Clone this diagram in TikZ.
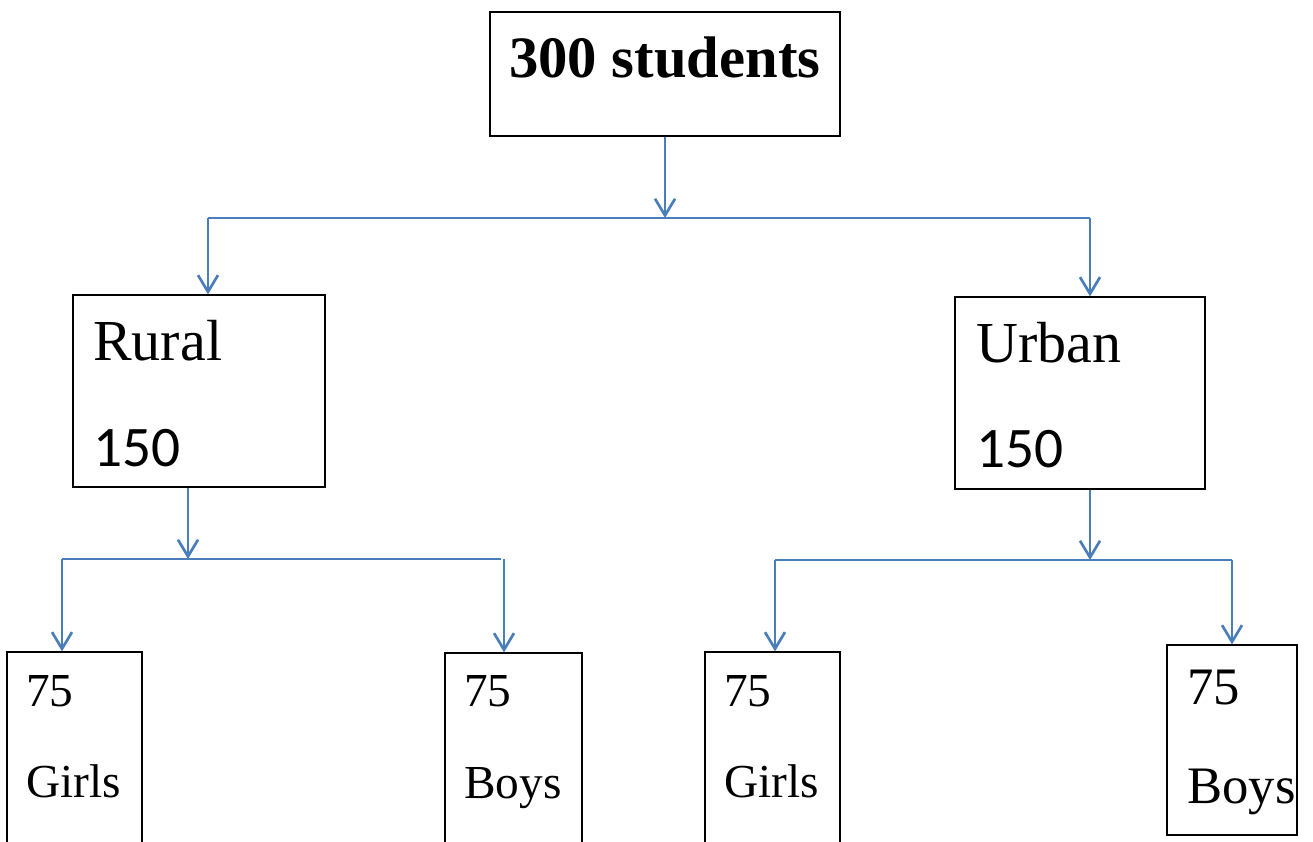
\documentclass[tikz,border=0pt]{standalone}
\usepackage{fontspec}
\setmainfont{Liberation Serif}
\newfontfamily\calib{Carlito}
\usetikzlibrary{arrows.meta}
\definecolor{conn}{HTML}{4A7EBB}
\tikzset{
  boxnode/.style={draw=black, line width=0.9pt, rectangle, inner sep=0pt},
  txt/.style={anchor=base west, inner sep=0pt, text=black},
  arr/.style={draw=conn, line width=2pt, -{Straight Barb[length=12.5pt, width=15pt, line width=2pt]}},
  link/.style={draw=conn, line width=2pt}
}
\begin{document}
\begin{tikzpicture}[x=0.75pt, y=-0.75pt]
\useasboundingbox (0,0) rectangle (1313,842);
\clip (0,0) rectangle (1313,842);
% boxes
\node[boxnode, minimum width=262.5pt, minimum height=93pt] (top) at (665,74) {};
\node[boxnode, minimum width=189pt, minimum height=144pt] (rural) at (199,391) {};
\node[boxnode, minimum width=187.5pt, minimum height=144pt] (urban) at (1080,393) {};
\node[boxnode, minimum width=101.25pt, minimum height=157.5pt] (rg) at (74.5,757) {};
\node[boxnode, minimum width=102.75pt, minimum height=157.5pt] (rb) at (513.5,758) {};
\node[boxnode, minimum width=101.25pt, minimum height=157.5pt] (ug) at (772.5,757) {};
\node[boxnode, minimum width=97.5pt, minimum height=142.5pt] (ub) at (1232,740) {};
% texts
\node[txt, font=\fontsize{44pt}{48pt}\selectfont\bfseries] (ttop) at (509,78) {300 students};
\node[txt, font=\fontsize{43.5pt}{48pt}\selectfont] (tr1) at (93,360) {Rural};
\node[txt, font=\fontsize{43pt}{48pt}\selectfont\calib] (tr2) at (93,466) {150};
\node[txt, font=\fontsize{43.5pt}{48pt}\selectfont] (tu1) at (976,362) {Urban};
\node[txt, font=\fontsize{43pt}{48pt}\selectfont\calib] (tu2) at (976,467) {150};
\node[txt, font=\fontsize{35.5pt}{40pt}\selectfont] (trg1) at (26,706) {75};
\node[txt, font=\fontsize{35.5pt}{40pt}\selectfont] (trg2) at (26,797) {Girls};
\node[txt, font=\fontsize{35.5pt}{40pt}\selectfont] (trb1) at (464,706) {75};
\node[txt, font=\fontsize{35.5pt}{40pt}\selectfont] (trb2) at (464,798) {Boys};
\node[txt, font=\fontsize{35.5pt}{40pt}\selectfont] (tug1) at (724,706) {75};
\node[txt, font=\fontsize{35.5pt}{40pt}\selectfont] (tug2) at (724,797) {Girls};
\node[txt, font=\fontsize{39.5pt}{44pt}\selectfont] (tub1) at (1187,704) {75};
\node[txt, font=\fontsize{39.5pt}{44pt}\selectfont] (tub2) at (1187,803) {Boys};
% junctions
\coordinate (j0) at (665,218);
\coordinate (jl) at (208,218);
\coordinate (jr) at (1090,218);
\coordinate (r0) at (188,559);
\coordinate (rl) at (62,559);
\coordinate (rr) at (501,559);
\coordinate (rr2) at (504,559);
\coordinate (u0) at (1090,560);
\coordinate (ul) at (775,560);
\coordinate (ur) at (1232,560);
% connectors
\draw[arr] (top.south) -- (j0);
\draw[link] (jl) -- (jr);
\draw[arr] (jl) -- (rural.north -| jl);
\draw[arr] (jr) -- (urban.north -| jr);
\draw[arr] (rural.south -| r0) -- (r0);
\draw[link] (rl) -- (rr);
\draw[arr] (rl) -- (rg.north -| rl);
\draw[arr] (rr2) -- (rb.north -| rr2);
\draw[arr] (urban.south -| u0) -- (u0);
\draw[link] (ul) -- (ur);
\draw[arr] (ul) -- (ug.north -| ul);
\draw[arr] (ur) -- (ub.north -| ur);
\end{tikzpicture}
\end{document}
